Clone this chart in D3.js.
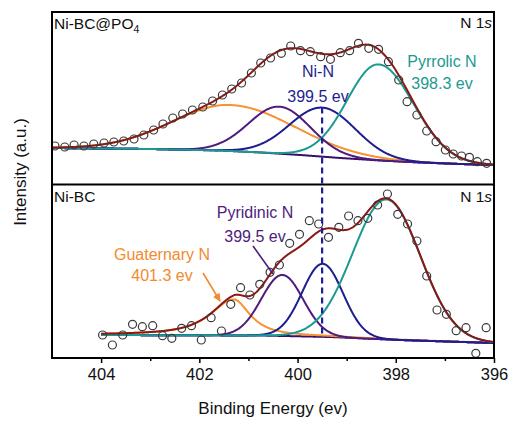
<!DOCTYPE html>
<html><head><meta charset="utf-8">
<script src="https://cdn.jsdelivr.net/npm/d3@7/dist/d3.min.js"></script>
<style>
html,body{margin:0;padding:0;background:#fff;}
svg{display:block;font-family:"Liberation Sans",Arial,Helvetica,sans-serif;}
</style></head>
<body>
<svg id="chart" width="512" height="421"></svg>
<script>
// ---------- DATA ----------
const xTicks = [404, 402, 400, 398, 396];
const xMinorTicks = [403, 401, 399, 397];
const componentNames = ["Guaternary N", "Pyridinic N", "Ni-N", "Pyrrolic N"];

// Top panel: Ni-BC@PO4 (binding energy eV, intensity a.u.)
const topE = [404.94,404.74,404.55,404.35,404.15,403.94,403.74,403.54,403.33,403.13,402.93,402.74,402.54,402.34,402.14,401.93,401.73,401.53,401.34,401.14,400.94,400.75,400.55,400.33,400.14,399.94,399.74,399.53,399.33,399.13,398.94,398.76,398.55,398.35,398.15,397.94,397.77,397.57,397.37,397.18,396.99,396.83,396.66,396.50,396.34,396.15];
const topI = [38,37,39,38,40,41,42,43,45,49,54,60,66,70,74,77,83,89,95,101,111,121,126,130.7,138,133.3,132.3,127.3,124.7,131.3,133.3,140.7,135.7,134.7,122.3,104,82.3,69,53,42.3,34,30,28,26.7,22.3,20.7];
const topBgE = [405, 402.99, 401.57, 400.75, 399.94, 399.13, 398.32, 397.50, 396.69, 396];
const topBgI = [36, 35, 33.5, 31.5, 29, 26, 23.5, 21.5, 20, 19];
const topCenter = [401.36, 400.37, 399.49, 398.35];
const topHeight = [46, 47, 49, 96];
const topHwhmHigh = [1.40, 0.74, 0.79, 0.755];
const topHwhmLow = [1.53, 0.74, 0.79, 0.84];
const topMix = [0, 0, 0, 0];

// Bottom panel: Ni-BC
const botE = [403.97,403.77,403.56,403.36,403.16,402.95,402.75,402.56,402.36,402.16,401.96,401.76,401.55,401.36,401.16,400.97,400.77,400.56,400.37,400.16,399.96,399.76,399.57,399.37,399.16,398.96,398.77,398.57,398.37,398.17,397.96,397.76,397.57,397.37,397.16,396.97,396.77,396.57,396.37,396.16];
const botI = [23,13,23,33.7,31.3,32.3,22.3,19.7,29.7,32.3,18,40.3,27,53.7,70.3,63,73.7,85.7,93,114.7,123.7,137.3,134,120.7,130.7,142,137.3,139.7,153,164,143.7,134,117,82,48,43.7,27.3,30.3,4.7,30.3];
const botBgE = [404, 400.75, 399.33, 397.91, 396];
const botBgI = [23, 22.5, 21, 18, 15];
const botCenter = [401.30, 400.31, 399.49, 398.19];
const botHeight = [36, 61, 73, 140];
const botHwhmHigh = [0.57, 0.50, 0.49, 0.81];
const botHwhmLow = [0.39, 0.50, 0.49, 0.81];
const botMix = [0.85, 0, 0, 0];

const dashE = 399.5, dashTopI = 76.5, dashBotI = 20;

// ---------- STYLE ----------
const compColors = ["#F7922F", "#4E1C7C", "#1E1E8E", "#1B9A92"];
const fitColor = "#8E1616";
const bgColor = "#3A0F6B";

const svg = d3.select("#chart");
const L = 52, R = 494, T = 12, MID = 184.5, B = 358;

const x = d3.scaleLinear().domain([405, 396]).range([L, R]);
const yTop = d3.scaleLinear().domain([0, 172]).range([184, 12]);
const yBot = d3.scaleLinear().domain([0, 174]).range([358, 184]);

function peak(e, c, h, wHi, wLo, m) {
  const d = e - c;
  const w = d >= 0 ? wHi : wLo;
  const u = (d / w) * (d / w);
  return h * ((1 - m) * Math.exp(-Math.LN2 * u) + m / (1 + u));
}

function panel(opts) {
  const { y, E, I, bgE, bgI, center, height, hHi, hLo, mix, e0, e1, clipId, yTopPx, yBotPx } = opts;
  const bg = d3.scaleLinear().domain(bgE).range(bgI);
  const grid = d3.range(e0, e1 - 1e-9, -0.01);
  const g = svg.append("g").attr("clip-path", `url(#${clipId})`);
  svg.append("clipPath").attr("id", clipId).append("rect")
    .attr("x", L).attr("y", yTopPx).attr("width", R - L).attr("height", yBotPx - yTopPx);
  const line = d3.line().x(d => x(d[0])).y(d => y(d[1])).curve(d3.curveLinear);
  // background
  g.append("path").datum(grid.map(e => [e, bg(e)]))
    .attr("d", line).attr("fill", "none").attr("stroke", bgColor).attr("stroke-width", 2);
  // components
  center.forEach((c, k) => {
    g.append("path").datum(grid.map(e => [e, bg(e) + peak(e, c, height[k], hHi[k], hLo[k], mix[k])]))
      .attr("d", line).attr("fill", "none").attr("stroke", compColors[k]).attr("stroke-width", 2);
  });
  // envelope fit
  g.append("path").datum(grid.map(e => [e, bg(e) + d3.sum(center, (c, k) => peak(e, c, height[k], hHi[k], hLo[k], mix[k]))]))
    .attr("d", line).attr("fill", "none").attr("stroke", fitColor).attr("stroke-width", 2);
  // data points
  g.selectAll("circle.pt").data(E.map((e, i) => [e, I[i]])).enter().append("circle")
    .attr("cx", d => x(d[0])).attr("cy", d => y(d[1])).attr("r", 4)
    .attr("fill", "none").attr("stroke", "#3a3a3a").attr("stroke-width", 1.2);
}

panel({ y: yTop, E: topE, I: topI, bgE: topBgE, bgI: topBgI, center: topCenter, height: topHeight,
  hHi: topHwhmHigh, hLo: topHwhmLow, mix: topMix, e0: 405, e1: 396, clipId: "clipTop", yTopPx: T, yBotPx: MID });
panel({ y: yBot, E: botE, I: botI, bgE: botBgE, bgI: botBgI, center: botCenter, height: botHeight,
  hHi: botHwhmHigh, hLo: botHwhmLow, mix: botMix, e0: 404, e1: 396, clipId: "clipBot", yTopPx: MID, yBotPx: B });

// dashed marker line
svg.append("line").attr("x1", x(dashE)).attr("x2", x(dashE))
  .attr("y1", yTop(dashTopI)).attr("y2", yBot(dashBotI))
  .attr("stroke", "#1E1E9E").attr("stroke-width", 2.2).attr("stroke-dasharray", "6,4");

// frame
svg.append("rect").attr("x", L).attr("y", T).attr("width", R - L).attr("height", B - T)
  .attr("fill", "none").attr("stroke", "#000").attr("stroke-width", 2);
svg.append("line").attr("x1", L).attr("x2", R).attr("y1", MID).attr("y2", MID)
  .attr("stroke", "#000").attr("stroke-width", 2);

// x axis
const axis = d3.axisBottom(x).tickValues(xTicks).tickSize(5).tickPadding(5).tickFormat(d3.format("d"));
const ax = svg.append("g").attr("transform", `translate(0,${B})`).call(axis);
ax.select(".domain").remove();
ax.selectAll(".tick line").attr("stroke", "#000").attr("stroke-width", 1.5);
ax.selectAll(".tick text").attr("font-size", 16.5).attr("fill", "#111")
  .attr("font-family", "'Liberation Sans',Arial,sans-serif").attr("dy", "0.75em");
const axm = svg.append("g").attr("transform", `translate(0,${B})`)
  .call(d3.axisBottom(x).tickValues(xMinorTicks).tickSize(3).tickFormat(""));
axm.select(".domain").remove();
axm.selectAll(".tick line").attr("stroke", "#000").attr("stroke-width", 1.5);

svg.append("text").attr("x", (L + R) / 2).attr("y", 414).attr("text-anchor", "middle")
  .attr("font-size", 17).attr("fill", "#111").text("Binding Energy (ev)");
svg.append("text").attr("transform", "translate(26,172) rotate(-90)").attr("text-anchor", "middle")
  .attr("font-size", 17).attr("fill", "#111").text("Intensity (a.u.)");

// panel labels
const t1 = svg.append("text").attr("x", 54).attr("y", 29).attr("font-size", 15.5).attr("fill", "#111");
t1.append("tspan").text("Ni-BC@PO");
t1.append("tspan").attr("font-size", 10.5).attr("dy", 4).text("4");
svg.append("text").attr("x", 54).attr("y", 202).attr("font-size", 15.5).attr("fill", "#111").text("Ni-BC");
[28, 202].forEach(yy => {
  const t = svg.append("text").attr("x", 492).attr("y", yy).attr("text-anchor", "end").attr("font-size", 15.5).attr("fill", "#111");
  t.append("tspan").text("N 1");
  t.append("tspan").attr("font-style", "italic").text("s");
});

// annotations
function label2(cx, y1, y2, a, b, col) {
  svg.append("text").attr("x", cx).attr("y", y1).attr("text-anchor", "middle").attr("font-size", 16).attr("fill", col).text(a);
  svg.append("text").attr("x", cx).attr("y", y2).attr("text-anchor", "middle").attr("font-size", 16).attr("fill", col).text(b);
}
label2(318, 77, 102, "Ni-N", "399.5 ev", compColors[2]);
label2(442, 67, 89, "Pyrrolic N", "398.3 ev", compColors[3]);
label2(255, 218, 242, "Pyridinic N", "399.5 ev", compColors[1]);
label2(162, 260, 281, "Guaternary N", "401.3 ev", "#F28A2E");

svg.append("line").attr("x1", 253).attr("y1", 246).attr("x2", 273).attr("y2", 274)
  .attr("stroke", compColors[1]).attr("stroke-width", 1.6);

const defs = svg.append("defs");
defs.append("marker").attr("id", "arr").attr("viewBox", "0 0 10 10").attr("refX", 9).attr("refY", 5)
  .attr("markerWidth", 5).attr("markerHeight", 5).attr("orient", "auto")
  .append("path").attr("d", "M0,0 L10,5 L0,10 z").attr("fill", "#F28A2E");
svg.append("line").attr("x1", 203).attr("y1", 273).attr("x2", 220).attr("y2", 301)
  .attr("stroke", "#F28A2E").attr("stroke-width", 1.6).attr("marker-end", "url(#arr)");
</script>
</body></html>
